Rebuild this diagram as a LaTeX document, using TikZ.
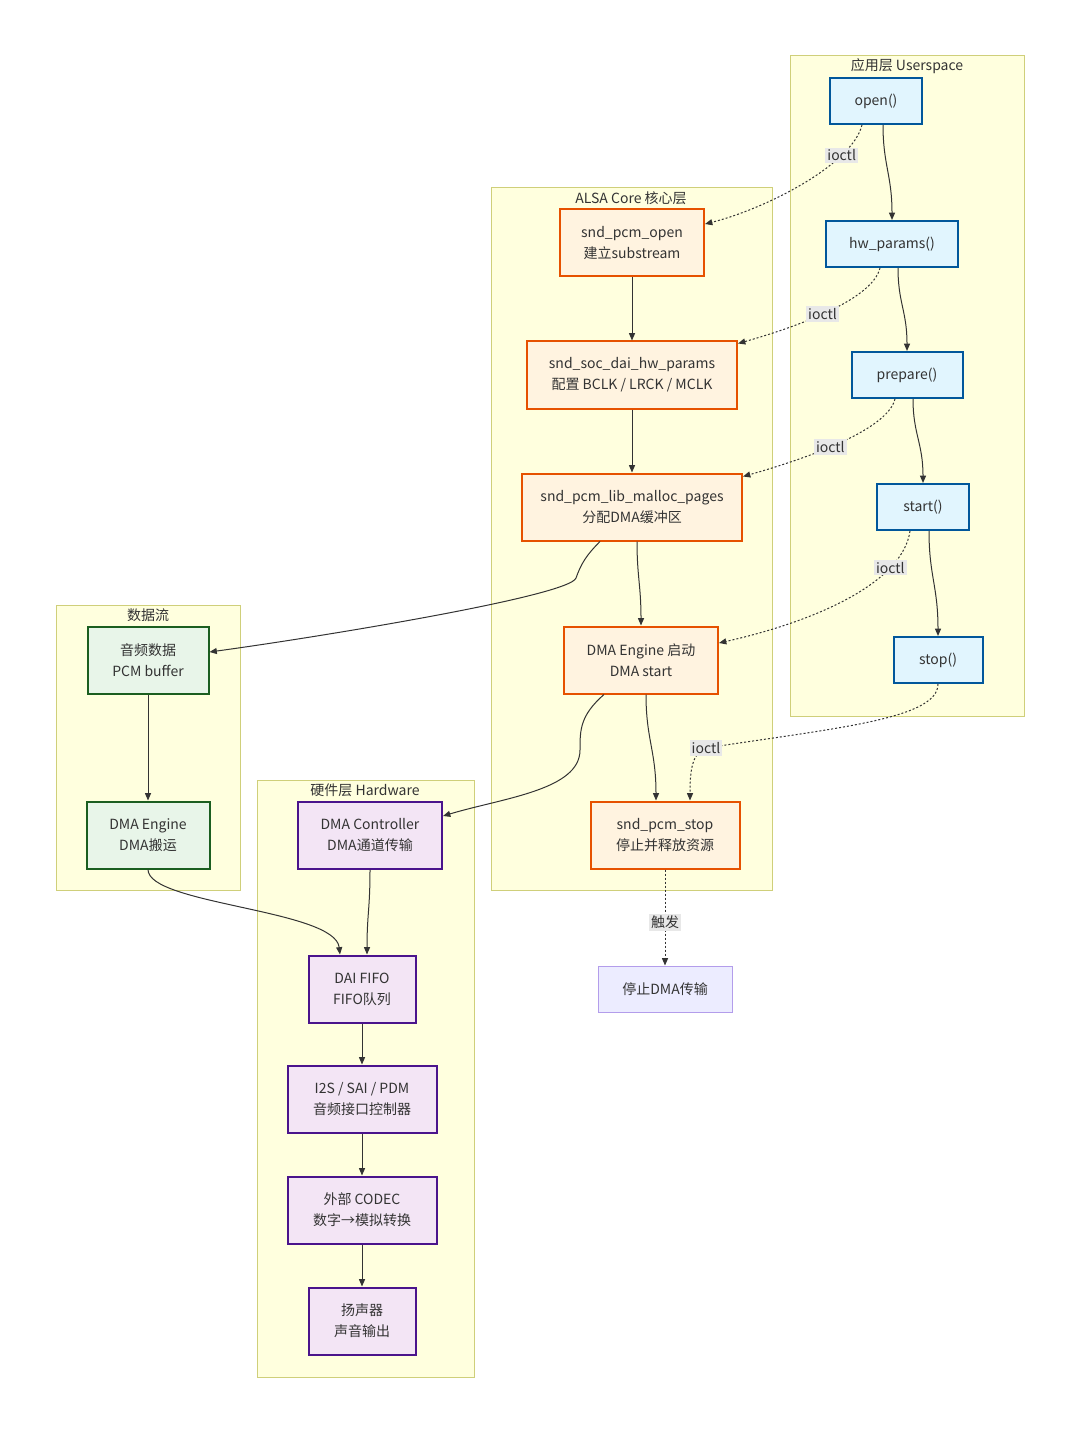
\documentclass[tikz,border=0pt]{standalone}
\usepackage{fontspec}
\setmainfont{Noto Sans CJK SC}
\usetikzlibrary{arrows.meta}

\definecolor{userfill}{HTML}{E1F5FE}
\definecolor{userline}{HTML}{01579B}
\definecolor{corefill}{HTML}{FFF3E0}
\definecolor{coreline}{HTML}{E65100}
\definecolor{datafill}{HTML}{E8F5E9}
\definecolor{dataline}{HTML}{1B5E20}
\definecolor{hwfill}{HTML}{F3E5F5}
\definecolor{hwline}{HTML}{4A148C}
\definecolor{plainfill}{HTML}{ECECFF}
\definecolor{plainline}{HTML}{B39DEB}
\definecolor{clusterfill}{HTML}{FFFFDE}
\definecolor{clusterline}{HTML}{CFCF7A}
\definecolor{textgray}{HTML}{333333}
\definecolor{labelfill}{HTML}{E8E8E8}

\begin{document}
\begin{tikzpicture}[x=0.75pt,y=-0.75pt,>={Triangle[length=5.5pt,width=4.5pt]},
    every node/.style={font=\fontsize{10.5pt}{15.75pt}\selectfont,text=textgray},
    main node/.style={draw,align=center,line width=1.5pt,minimum height=34.5pt,inner sep=0pt},
    two line/.style={minimum height=50.25pt},
    user node/.style={main node,fill=userfill,draw=userline},
    core node/.style={main node,two line,fill=corefill,draw=coreline},
    data node/.style={main node,two line,fill=datafill,draw=dataline},
    hw node/.style={main node,two line,fill=hwfill,draw=hwline},
    plain node/.style={main node,fill=plainfill,draw=plainline,line width=0.75pt},
    cluster/.style={fill=clusterfill,draw=clusterline,line width=0.75pt},
    edge line/.style={->,draw=textgray,line width=0.75pt},
    call line/.style={edge line,dash pattern=on 1.5pt off 1.5pt},
    label node/.style={fill=labelfill,inner sep=1.5pt,text=textgray}]

    \useasboundingbox (0,0) rectangle (1080,1433);

    % clusters
    \path[cluster] (790,56) rectangle (1024,716);
    \path[cluster] (491,188) rectangle (772,890);
    \path[cluster] (56,605) rectangle (240,890);
    \path[cluster] (257,780) rectangle (474,1377);
    \node (usertitle) at (907,66) {应用层 Userspace};
    \node (coretitle) at (631,198) {ALSA Core 核心层};
    \node (datatitle) at (148,615) {数据流};
    \node (hwtitle) at (365,790) {硬件层 Hardware};

    % userspace
    \node[user node,minimum width=69pt] (open) at (876,101) {open()};
    \node[user node,minimum width=99pt] (hw) at (892,244) {hw\_params()};
    \node[user node,minimum width=83.25pt] (prepare) at (907,375) {prepare()};
    \node[user node,minimum width=69pt] (start) at (923,507) {start()};
    \node[user node,minimum width=66.75pt] (stop) at (938,660) {stop()};

    % alsa core
    \node[core node,minimum width=108pt] (pcmopen) at (632,243) {snd\_pcm\_open\\建立substream};
    \node[core node,minimum width=157.5pt] (daiparams) at (632,375) {snd\_soc\_dai\_hw\_params\\配置 BCLK / LRCK / MCLK};
    \node[core node,minimum width=165pt] (malloc) at (632,507) {snd\_pcm\_lib\_malloc\_pages\\分配DMA缓冲区};
    \node[core node,minimum width=115.5pt] (dmastart) at (641,660) {DMA Engine 启动\\DMA start};
    \node[core node,minimum width=111.75pt] (pcmstop) at (665,835) {snd\_pcm\_stop\\停止并释放资源};
    \node[plain node,minimum width=100.5pt] (dmahalt) at (665,989) {停止DMA传输};

    % data flow
    \node[data node,minimum width=90.75pt] (pcmbuf) at (148,660) {音频数据\\PCM buffer};
    \node[data node,minimum width=92.25pt] (dmamove) at (148,835) {DMA Engine\\DMA搬运};

    % hardware
    \node[hw node,minimum width=108pt] (dmactrl) at (370,835) {DMA Controller\\DMA通道传输};
    \node[hw node,minimum width=80.25pt] (fifo) at (362,989) {DAI FIFO\\FIFO队列};
    \node[hw node,minimum width=111.75pt] (i2s) at (362,1099) {I2S / SAI / PDM\\音频接口控制器};
    \node[hw node,minimum width=111.75pt] (codec) at (362,1210) {外部 CODEC\\数字→模拟转换};
    \node[hw node,minimum width=80.25pt] (speaker) at (362,1321) {扬声器\\声音输出};

    % userspace calls
    \draw[edge line] ([xshift=5.25pt]open.south) .. controls +(0,40) and +(0,-45) .. (hw.north);
    \draw[edge line] ([xshift=4.5pt]hw.south) .. controls +(0,35) and +(0,-40) .. (prepare.north);
    \draw[edge line] ([xshift=4.5pt]prepare.south) .. controls +(0,35) and +(0,-40) .. (start.north);
    \draw[edge line] ([xshift=4.5pt]start.south) .. controls +(0,45) and +(0,-50) .. (stop.north);

    % ioctl
    \draw[call line] ([xshift=-10.5pt]open.south) .. controls +(-10,40) and +(60,-15) .. ([yshift=14.25pt]pcmopen.east)
        node[label node,pos=0.25] {ioctl};
    \draw[call line] ([xshift=-9pt]hw.south) .. controls +(-8,33) and +(53,-15) .. ([yshift=-2.25pt]daiparams.north east)
        node[label node,pos=0.52] {ioctl};
    \draw[call line] ([xshift=-9pt]prepare.south) .. controls +(-8,33) and +(53,-15) .. ([yshift=-3pt]malloc.north east)
        node[label node,pos=0.53] {ioctl};
    \draw[call line] ([xshift=-9.75pt]start.south) .. controls +(-7,50) and +(102,-23) .. ([yshift=12.75pt]dmastart.east)
        node[label node,pos=0.26] {ioctl};
    \draw[call line] (stop.south) .. controls +(0,35) and +(130,-20) .. (706,748) node[label node] {ioctl}
        .. controls +(-14,5) and +(0,-30) .. ([xshift=18.75pt]pcmstop.north);

    % alsa core flow
    \draw[edge line] (pcmopen) -- (daiparams);
    \draw[edge line] (daiparams) -- (malloc);
    \draw[edge line] ([xshift=3.75pt]malloc.south) .. controls +(0,35) and +(0,-40) .. (dmastart.north);
    \draw[edge line] ([xshift=-24pt]malloc.south) .. controls +(-14,14) and +(5,-14) .. (576,578)
        .. controls +(-6,18) and +(110,-15) .. ([yshift=6pt]pcmbuf.east);
    \draw[edge line] ([xshift=3.75pt]dmastart.south) .. controls +(0,45) and +(0,-50) .. ([xshift=-6.75pt]pcmstop.north);
    \draw[edge line] ([xshift=-27.75pt]dmastart.south) .. controls +(-24,21) and +(0,-20) .. (580,750)
        .. controls +(0,40) and +(60,-18) .. ([yshift=14.25pt]dmactrl.east);
    \draw[call line] (pcmstop) -- (dmahalt) node[label node,pos=0.55] {触发};

    % data flow and hardware
    \draw[edge line] (pcmbuf) -- (dmamove);
    \draw[edge line] (dmamove.south) .. controls +(0,35) and +(-5,-45) .. ([xshift=-16.5pt]fifo.north);
    \draw[edge line] (dmactrl.south) .. controls +(0,40) and +(0,-40) .. ([xshift=3.75pt]fifo.north);
    \draw[edge line] (fifo) -- (i2s);
    \draw[edge line] (i2s) -- (codec);
    \draw[edge line] (codec) -- (speaker);

\end{tikzpicture}
\end{document}
